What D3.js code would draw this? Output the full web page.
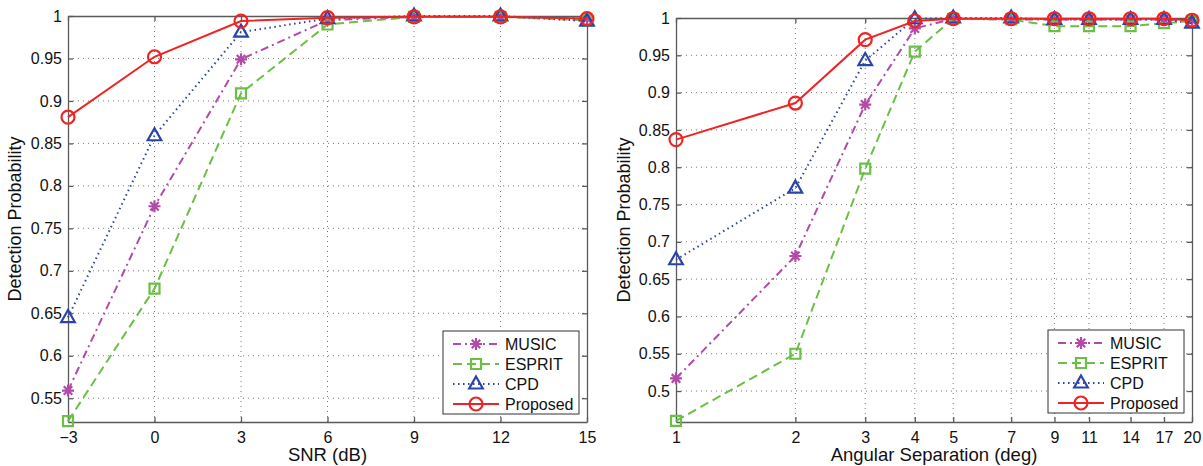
<!DOCTYPE html>
<html>
<head>
<meta charset="utf-8">
<script src="https://cdn.jsdelivr.net/npm/d3@7"></script>
<style>
  body { margin: 0; background: #fff; }
  svg { display: block; font-family: "Liberation Sans", Arial, sans-serif; }
</style>
</head>
<body>
<div class="container"></div>
<script>
// left panel: SNR sweep
const snr = [-3, 0, 3, 6, 9, 12, 15];
const snrMusic    = [0.559, 0.776, 0.949, 0.995, 0.999, 0.999, 0.997];
const snrEsprit   = [0.523, 0.679, 0.909, 0.990, 0.999, 0.999, 0.995];
const snrCpd      = [0.645, 0.859, 0.981, 0.997, 1.000, 1.000, 0.994];
const snrProposed = [0.881, 0.952, 0.994, 0.998, 0.999, 0.999, 0.997];
const snrTicks = [-3, 0, 3, 6, 9, 12, 15];

// right panel: angular separation sweep
const sep = [1, 2, 3, 4, 5, 7, 9, 11, 14, 17, 20];
const sepMusic    = [0.517, 0.681, 0.884, 0.986, 0.999, 0.998, 0.998, 0.998, 0.998, 0.998, 0.997];
const sepEsprit   = [0.460, 0.550, 0.798, 0.955, 0.999, 0.998, 0.989, 0.989, 0.989, 0.993, 0.996];
const sepCpd      = [0.676, 0.772, 0.943, 0.999, 1.000, 1.000, 0.998, 0.998, 0.998, 0.998, 0.993];
const sepProposed = [0.837, 0.886, 0.971, 0.996, 0.999, 0.999, 0.999, 0.999, 0.999, 0.999, 0.997];
const sepTicks = [1, 2, 3, 4, 5, 7, 9, 11, 14, 17, 20];

const names = ["MUSIC", "ESPRIT", "CPD", "Proposed"];
const yTicks = [0.5, 0.55, 0.6, 0.65, 0.7, 0.75, 0.8, 0.85, 0.9, 0.95, 1];

const styles = {
  MUSIC:    { color: "#b24aa9", dash: "8,4,2,4", marker: "star" },
  ESPRIT:   { color: "#6abf45", dash: "9,5", marker: "square" },
  CPD:      { color: "#2b45a6", dash: "1.5,3.5", marker: "triangle" },
  Proposed: { color: "#ee2424", dash: null, marker: "circle" }
};

const svg = d3.select(".container").append("svg")
  .attr("width", 1203).attr("height", 466);

function markerPath(type) {
  if (type === "circle") return d3.arc()({ innerRadius: 0, outerRadius: 6.5, startAngle: 0, endAngle: 2 * Math.PI });
  if (type === "square") return "M-5,-5L5,-5L5,5L-5,5Z";
  if (type === "triangle") return "M0,-7.5L6.8,4.5L-6.8,4.5Z";
  // asterisk
  let p = "";
  for (let i = 0; i < 4; i++) {
    const a = i * Math.PI / 4;
    const dx = 6 * Math.cos(a), dy = 6 * Math.sin(a);
    p += `M${-dx},${-dy}L${dx},${dy}`;
  }
  return p;
}

function drawPanel(cfg) {
  const m = cfg.m;
  const w = m.right - m.left, h = m.bottom - m.top;
  const g = svg.append("g").attr("transform", `translate(${m.left},${m.top})`);

  const x = cfg.log
    ? d3.scaleLog().domain(cfg.xDomain).range([0, w])
    : d3.scaleLinear().domain(cfg.xDomain).range([0, w]);
  const y = d3.scaleLinear().domain(cfg.yDomain).range([h, 0]);
  const yt = yTicks.filter(v => v >= cfg.yDomain[0]);

  // grid
  g.append("g").selectAll("line").data(cfg.xTicks.slice(1, -1)).join("line")
    .attr("x1", d => x(d)).attr("x2", d => x(d)).attr("y1", 0).attr("y2", h)
    .attr("stroke", "#555").attr("stroke-width", 0.8).attr("stroke-dasharray", "1,4");
  g.append("g").selectAll("line").data(yt.filter(v => v < 1)).join("line")
    .attr("x1", 0).attr("x2", w).attr("y1", d => y(d)).attr("y2", d => y(d))
    .attr("stroke", "#555").attr("stroke-width", 0.8).attr("stroke-dasharray", "1,4");

  // axes
  const fmtX = d => d < 0 ? "\u2212" + Math.abs(d) : String(d);
  g.append("g").attr("transform", `translate(0,${h})`)
    .call(d3.axisBottom(x).tickValues(cfg.xTicks).tickFormat(fmtX).tickSizeInner(-5).tickSizeOuter(0).tickPadding(10));
  g.append("g")
    .call(d3.axisLeft(y).tickValues(yt).tickFormat(d => String(+d.toFixed(2))).tickSizeInner(-5).tickSizeOuter(0).tickPadding(6));
  g.append("g")
    .call(d3.axisTop(x).tickValues(cfg.xTicks).tickFormat("").tickSizeInner(-5).tickSizeOuter(0));
  g.append("g").attr("transform", `translate(${w},0)`)
    .call(d3.axisRight(y).tickValues(yt).tickFormat("").tickSizeInner(-5).tickSizeOuter(0));
  g.selectAll(".domain, .tick line").attr("stroke", "#5a5a5a").attr("stroke-width", 1.3);
  g.selectAll(".tick text").attr("font-size", 16).attr("fill", "#111")
    .attr("font-family", "Liberation Sans, Arial, sans-serif");

  // series
  const line = d3.line().x(d => x(d[0])).y(d => y(d[1]));
  names.forEach((n, i) => {
    const st = styles[n];
    const pts = cfg.xs.map((v, j) => [v, cfg.series[i][j]]);
    g.append("path").datum(pts).attr("d", line)
      .attr("fill", "none").attr("stroke", st.color).attr("stroke-width", 2)
      .attr("stroke-dasharray", st.dash);
    g.append("g").selectAll("path").data(pts).join("path")
      .attr("transform", d => `translate(${x(d[0])},${y(d[1])})`)
      .attr("d", markerPath(st.marker))
      .attr("fill", "none").attr("stroke", st.color).attr("stroke-width", 2.2);
  });

  // labels
  g.append("text").attr("x", w / 2).attr("y", h + 39).attr("text-anchor", "middle")
    .attr("font-size", 18.5).attr("fill", "#111").text(cfg.xLabel);
  g.append("text").attr("transform", `translate(${cfg.yLabelX - m.left},${h / 2}) rotate(-90)`)
    .attr("text-anchor", "middle").attr("font-size", 18).attr("fill", "#111").text("Detection Probability");

  // legend
  const lg = g.append("g").attr("transform", `translate(${cfg.legend[0] - m.left},${cfg.legend[1] - m.top})`);
  lg.append("rect").attr("width", 136).attr("height", 83)
    .attr("fill", "#fff").attr("stroke", "#333").attr("stroke-width", 1);
  names.forEach((n, i) => {
    const st = styles[n];
    const ry = 13 + i * 20;
    lg.append("line").attr("x1", 10).attr("x2", 56).attr("y1", ry).attr("y2", ry)
      .attr("stroke", st.color).attr("stroke-width", 2).attr("stroke-dasharray", st.dash);
    lg.append("path").attr("transform", `translate(33,${ry})`).attr("d", markerPath(st.marker))
      .attr("fill", "none").attr("stroke", st.color).attr("stroke-width", 2.2);
    lg.append("text").attr("x", 62).attr("y", ry + 6).attr("font-size", 16).attr("fill", "#111").text(n);
  });
}

drawPanel({
  m: { left: 68, right: 587, top: 16, bottom: 422 },
  xDomain: [-3, 15], yDomain: [0.522, 1], log: false,
  xTicks: snrTicks, xs: snr,
  series: [snrMusic, snrEsprit, snrCpd, snrProposed],
  xLabel: "SNR (dB)", yLabelX: 21, legend: [443, 331]
});

drawPanel({
  m: { left: 676, right: 1192, top: 18, bottom: 422 },
  xDomain: [1, 20], yDomain: [0.4585, 1], log: true,
  xTicks: sepTicks, xs: sep,
  series: [sepMusic, sepEsprit, sepCpd, sepProposed],
  xLabel: "Angular Separation (deg)", yLabelX: 630, legend: [1048, 330]
});
</script>
</body>
</html>
